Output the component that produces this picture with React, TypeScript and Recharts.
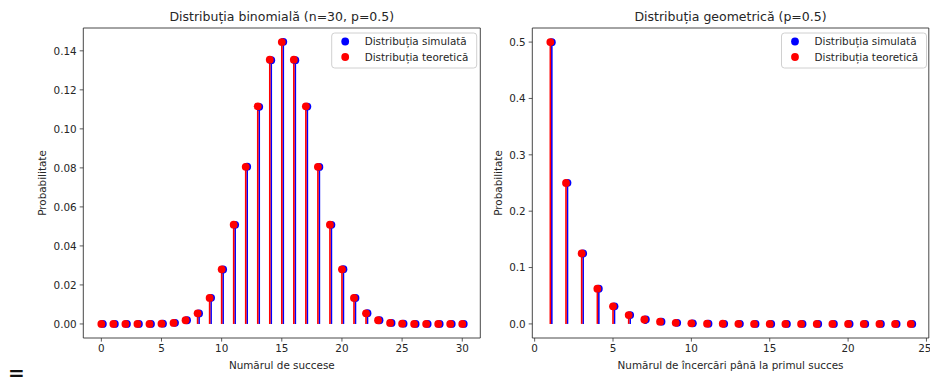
import React from 'react';
import { ScatterChart, Scatter, XAxis, YAxis, ReferenceLine, ReferenceArea } from 'recharts';

// Distributia binomiala (n=30, p=0.5)
const binomK = [0, 1, 2, 3, 4, 5, 6, 7, 8, 9, 10, 11, 12, 13, 14, 15, 16, 17, 18, 19, 20, 21, 22, 23, 24, 25, 26, 27, 28, 29, 30];
const binomSimulated = [0, 0, 0, 0, 0.00003, 0.00014, 0.00056, 0.0019, 0.0054, 0.0134, 0.0279, 0.0508, 0.0806, 0.1113, 0.1352, 0.1446, 0.1352, 0.1114, 0.0805, 0.0508, 0.0281, 0.0133, 0.0055, 0.0019, 0.00055, 0.00013, 0.00003, 0, 0, 0, 0];
const binomTheoretical = [0, 0, 0, 0, 0.00003, 0.00013, 0.00055, 0.0019, 0.00545, 0.01332, 0.02798, 0.05088, 0.08055, 0.11154, 0.13544, 0.14446, 0.13544, 0.11154, 0.08055, 0.05088, 0.02798, 0.01332, 0.00545, 0.0019, 0.00055, 0.00013, 0.00003, 0, 0, 0, 0];

// Distributia geometrica (p=0.5)
const geomK = [1, 2, 3, 4, 5, 6, 7, 8, 9, 10, 11, 12, 13, 14, 15, 16, 17, 18, 19, 20, 21, 22, 23, 24];
const geomSimulated = [0.4998, 0.2503, 0.1249, 0.0626, 0.0312, 0.0157, 0.0078, 0.0039, 0.002, 0.001, 0.0005, 0.0002, 0.0001, 0.00006, 0.00003, 0.00002, 0.00001, 0, 0, 0, 0, 0, 0, 0];
const geomTheoretical = [0.5, 0.25, 0.125, 0.0625, 0.03125, 0.01563, 0.00781, 0.00391, 0.00195, 0.00098, 0.00049, 0.00024, 0.00012, 0.00006, 0.00003, 0.00002, 0.00001, 0, 0, 0, 0, 0, 0, 0];

const binomXTicks = [0, 5, 10, 15, 20, 25, 30];
const binomYTicks = [0, 0.02, 0.04, 0.06, 0.08, 0.1, 0.12, 0.14];
const geomXTicks = [0, 5, 10, 15, 20, 25];
const geomYTicks = [0, 0.1, 0.2, 0.3, 0.4, 0.5];

const FONT = '"DejaVu Sans", sans-serif';
const BLUE = '#0000ff';
const RED = '#ff0000';
const SIM_SHIFT = 1.5; // simulated stems sit a hair to the right

interface PanelProps {
  k: number[];
  sim: number[];
  theo: number[];
  xDomain: [number, number];
  yDomain: [number, number];
  xTicks: number[];
  yTicks: number[];
  yDigits: number;
  xLabel: string;
  width: number;
  yAxisWidth: number;
  marginRight: number;
  yLabelX: number;
}

const stemShape = (color: string, dx: number) => (p: any) => (
  <line x1={p.x1 + dx} y1={p.y1} x2={p.x2 + dx} y2={p.y2} stroke={color} strokeWidth={1.6} />
);

const dotShape = (color: string, dx: number) => (p: any) => (
  <circle cx={p.cx + dx} cy={p.cy} r={3.9} fill={color} />
);

const StemPanel: React.FC<PanelProps> = (props) => {
  const simData = props.k.map((x, i) => ({ x, y: props.sim[i] }));
  const theoData = props.k.map((x, i) => ({ x, y: props.theo[i] }));
  const tickStyle = { fontSize: 10.4, fill: '#262626', fontFamily: FONT };

  return (
    <ScatterChart width={props.width} height={385} margin={{ top: 28, right: props.marginRight, bottom: 0, left: 0 }}>
      <XAxis
        type="number"
        dataKey="x"
        domain={props.xDomain}
        ticks={props.xTicks}
        allowDataOverflow
        height={47}
        tickSize={3.6}
        tickMargin={3}
        axisLine={false}
        tickLine={{ stroke: '#333', strokeWidth: 0.8 }}
        tick={tickStyle}
        label={{
          content: ({ viewBox }: any) => (
            <text x={viewBox.x + viewBox.width / 2} y={368.5} textAnchor="middle" fontSize={10.4} fontFamily={FONT} fill="#262626">
              {props.xLabel}
            </text>
          ),
        }}
      />
      <YAxis
        type="number"
        dataKey="y"
        domain={props.yDomain}
        ticks={props.yTicks}
        allowDataOverflow
        width={props.yAxisWidth}
        tickSize={3.6}
        tickMargin={3}
        axisLine={false}
        tickLine={{ stroke: '#333', strokeWidth: 0.8 }}
        tick={tickStyle}
        tickFormatter={(v: number) => v.toFixed(props.yDigits)}
        label={{
          content: ({ viewBox }: any) => {
            const cy = viewBox.y + viewBox.height / 2;
            return (
              <text x={props.yLabelX} y={cy} transform={`rotate(-90 ${props.yLabelX} ${cy})`} textAnchor="middle" dominantBaseline="central" fontSize={10.4} fontFamily={FONT} fill="#262626">
                Probabilitate
              </text>
            );
          },
        }}
      />
      <ReferenceArea
        x1={props.xDomain[0]}
        x2={props.xDomain[1]}
        y1={props.yDomain[0]}
        y2={props.yDomain[1]}
        fill="none"
        stroke="#333"
        strokeWidth={0.9}
        ifOverflow="visible"
      />
      {simData.map((d) => (
        <ReferenceLine key={`s-${d.x}`} segment={[{ x: d.x, y: 0 }, { x: d.x, y: d.y }]} ifOverflow="visible" shape={stemShape(BLUE, SIM_SHIFT)} />
      ))}
      {theoData.map((d) => (
        <ReferenceLine key={`t-${d.x}`} segment={[{ x: d.x, y: 0 }, { x: d.x, y: d.y }]} ifOverflow="visible" shape={stemShape(RED, 0)} />
      ))}
      <Scatter data={simData} shape={dotShape(BLUE, SIM_SHIFT)} isAnimationActive={false} />
      <Scatter data={theoData} shape={dotShape(RED, 0)} isAnimationActive={false} />
    </ScatterChart>
  );
};

const LegendBox: React.FC<{ x: number; y: number; w: number }> = ({ x, y, w }) => (
  <g>
    <rect x={x} y={y} width={w} height={35} rx={3} fill="#fff" fillOpacity={0.8} stroke="#d0d0d0" strokeWidth={1} />
    <circle cx={x + 13.5} cy={y + 8.5} r={3.9} fill={BLUE} />
    <text x={x + 33} y={y + 12.3} fontSize={10.4} fontFamily={FONT} fill="#262626">Distribuția simulată</text>
    <circle cx={x + 13.5} cy={y + 24} r={3.9} fill={RED} />
    <text x={x + 33} y={y + 27.8} fontSize={10.4} fontFamily={FONT} fill="#262626">Distribuția teoretică</text>
  </g>
);

export default function App() {
  return (
    <div style={{ position: 'absolute', left: 0, top: 0, width: 930, height: 385, background: '#fff', overflow: 'hidden' }}>
      <div style={{ position: 'absolute', left: 0, top: 0 }}>
        <StemPanel
          k={binomK}
          sim={binomSimulated}
          theo={binomTheoretical}
          xDomain={[-1.5, 31.5]}
          yDomain={[-0.0072, 0.1517]}
          xTicks={binomXTicks}
          yTicks={binomYTicks}
          yDigits={2}
          xLabel="Numărul de succese"
          width={490}
          yAxisWidth={83.3}
          marginRight={9.7}
          yLabelX={41.7}
        />
      </div>
      <div style={{ position: 'absolute', left: 480, top: 0 }}>
        <StemPanel
          k={geomK}
          sim={geomSimulated}
          theo={geomTheoretical}
          xDomain={[-0.15, 25.15]}
          yDomain={[-0.025, 0.525]}
          xTicks={geomXTicks}
          yTicks={geomYTicks}
          yDigits={1}
          xLabel="Numărul de încercări până la primul succes"
          width={450}
          yAxisWidth={52.3}
          marginRight={1.2}
          yLabelX={18.3}
        />
      </div>
      <svg width={930} height={385} style={{ position: 'absolute', left: 0, top: 0, pointerEvents: 'none' }}>
        <text x={281.8} y={20.5} textAnchor="middle" fontSize={12.5} fontFamily={FONT} fill="#262626">Distribuția binomială (n=30, p=0.5)</text>
        <text x={730.5} y={20.5} textAnchor="middle" fontSize={12.5} fontFamily={FONT} fill="#262626">Distribuția geometrică (p=0.5)</text>
        <LegendBox x={331.7} y={33} w={145} />
        <LegendBox x={781.5} y={33} w={145} />
        <text x={8} y={380} fontSize={20} fontWeight="bold" fontFamily={FONT} fill="#111">=</text>
      </svg>
    </div>
  );
}
